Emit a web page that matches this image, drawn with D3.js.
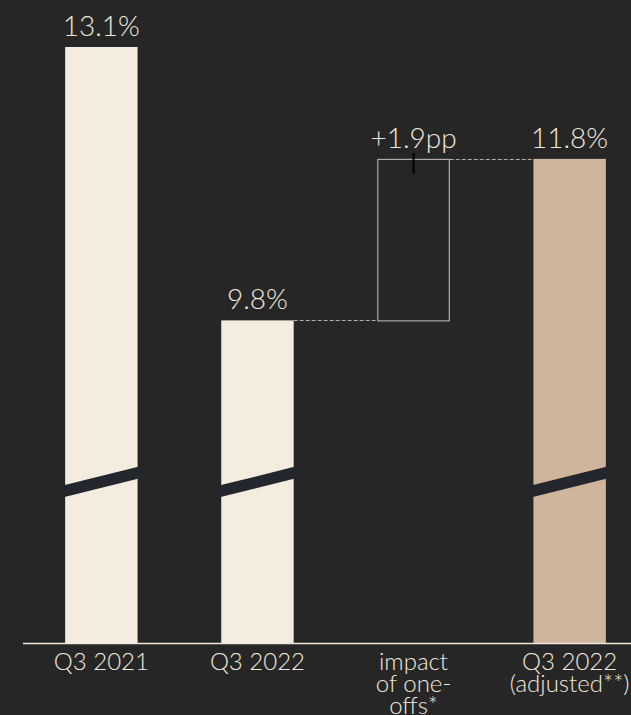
<!DOCTYPE html>
<html>
<head>
<meta charset="utf-8">
<script src="https://cdn.jsdelivr.net/npm/d3@7"></script>
<style>
  html, body { margin: 0; padding: 0; background: #262626; }
  svg { display: block; }
  text { font-family: Lato, "Noto Sans", sans-serif; font-weight: 300; fill: #f2e9dd; }
</style>
</head>
<body>
<svg id="chart" width="631" height="715"></svg>
<script>
// ---- data ----
const categories = ["Q3 2021", "Q3 2022", "impact of one-offs*", "Q3 2022 (adjusted**)"];
const categoryLines = [["Q3 2021"], ["Q3 2022"], ["impact", "of one-", "offs*"], ["Q3 2022", "(adjusted**)"]];
const barValues = [13.1, 9.8, null, 11.75];      // plotted heights (pp)
const stepFrom = 9.8;                             // one-off step start
const stepTo = 11.75;                             // one-off step end
const valueLabels = ["13.1%", "9.8%", "+1.9pp", "11.8%"];
const barKinds = ["actual", "actual", "step", "adjusted"];
const breakBars = [0, 1, 3];

// ---- layout ----
const W = 631, H = 715;
const axisY = 643.5;
const svg = d3.select("#chart");

const x = d3.scaleBand().domain(categories)
  .range([23, 648]).paddingInner(0.536).paddingOuter(0.27);
const y = d3.scaleLinear().domain([5.9, 13.1]).range([axisY, 47]);

const colors = { actual: "#f5ece0", adjusted: "#cfb59b" };

// bars
const barData = categories.map((c, i) => ({ c, v: barValues[i], kind: barKinds[i], i }))
  .filter(d => d.v !== null);
svg.append("g").selectAll("rect").data(barData).join("rect")
  .attr("x", d => x(d.c))
  .attr("y", d => y(d.v))
  .attr("width", x.bandwidth())
  .attr("height", d => axisY - y(d.v))
  .attr("fill", d => colors[d.kind]);

// waterfall step box
const sc = categories[2];
svg.append("rect")
  .attr("x", x(sc) + 0.5)
  .attr("y", y(stepTo) + 0.5)
  .attr("width", x.bandwidth() - 1)
  .attr("height", y(stepFrom) - y(stepTo))
  .attr("fill", "none")
  .attr("stroke", "#c9c4bb")
  .attr("stroke-width", 1);

// small dark tick at step top
svg.append("line")
  .attr("x1", x(sc) + x.bandwidth() / 2).attr("x2", x(sc) + x.bandwidth() / 2)
  .attr("y1", y(stepTo) - 6).attr("y2", y(stepTo) + 15)
  .attr("stroke", "#000").attr("stroke-width", 2);

// dashed connectors
const conn = [
  { x1: x(categories[1]) + x.bandwidth(), x2: x(sc), v: stepFrom },
  { x1: x(sc) + x.bandwidth(), x2: x(categories[3]), v: stepTo }
];
svg.append("g").selectAll("line").data(conn).join("line")
  .attr("x1", d => d.x1).attr("x2", d => d.x2)
  .attr("y1", d => Math.round(y(d.v)) + 0.5).attr("y2", d => Math.round(y(d.v)) + 0.5)
  .attr("stroke", "#b3afa7").attr("stroke-width", 1)
  .attr("stroke-dasharray", "4,2");

// break marks
const breakVal = 7.85; // centre of break band in value units
svg.append("g").selectAll("line").data(breakBars).join("line")
  .attr("x1", i => x(categories[i]) - 4)
  .attr("x2", i => x(categories[i]) + x.bandwidth() + 4)
  .attr("y1", y(breakVal) + 10)
  .attr("y2", y(breakVal) - 10)
  .attr("stroke", "#23262d").attr("stroke-width", 11.5);

// axis line
svg.append("line")
  .attr("x1", 23).attr("x2", W)
  .attr("y1", axisY).attr("y2", axisY)
  .attr("stroke", "#efe6da").attr("stroke-width", 1.5);

// value labels
const labelVals = [barValues[0], barValues[1], stepTo, barValues[3]];
svg.append("g").selectAll("text").data(categories).join("text")
  .attr("x", c => x(c) + x.bandwidth() / 2)
  .attr("y", (c, i) => y(labelVals[i]) - 11)
  .attr("text-anchor", "middle")
  .style("font-size", "28px")
  .text((c, i) => valueLabels[i]);

// category labels
const cg = svg.append("g").selectAll("text").data(categories).join("text")
  .attr("x", c => x(c) + x.bandwidth() / 2)
  .attr("y", 670)
  .attr("text-anchor", "middle")
  .style("font-size", "24px");
cg.selectAll("tspan").data((c, i) => categoryLines[i]).join("tspan")
  .attr("x", function () { return this.parentNode.getAttribute("x"); })
  .attr("dy", (d, j) => j === 0 ? 0 : 22)
  .text(d => d);
</script>
</body>
</html>
